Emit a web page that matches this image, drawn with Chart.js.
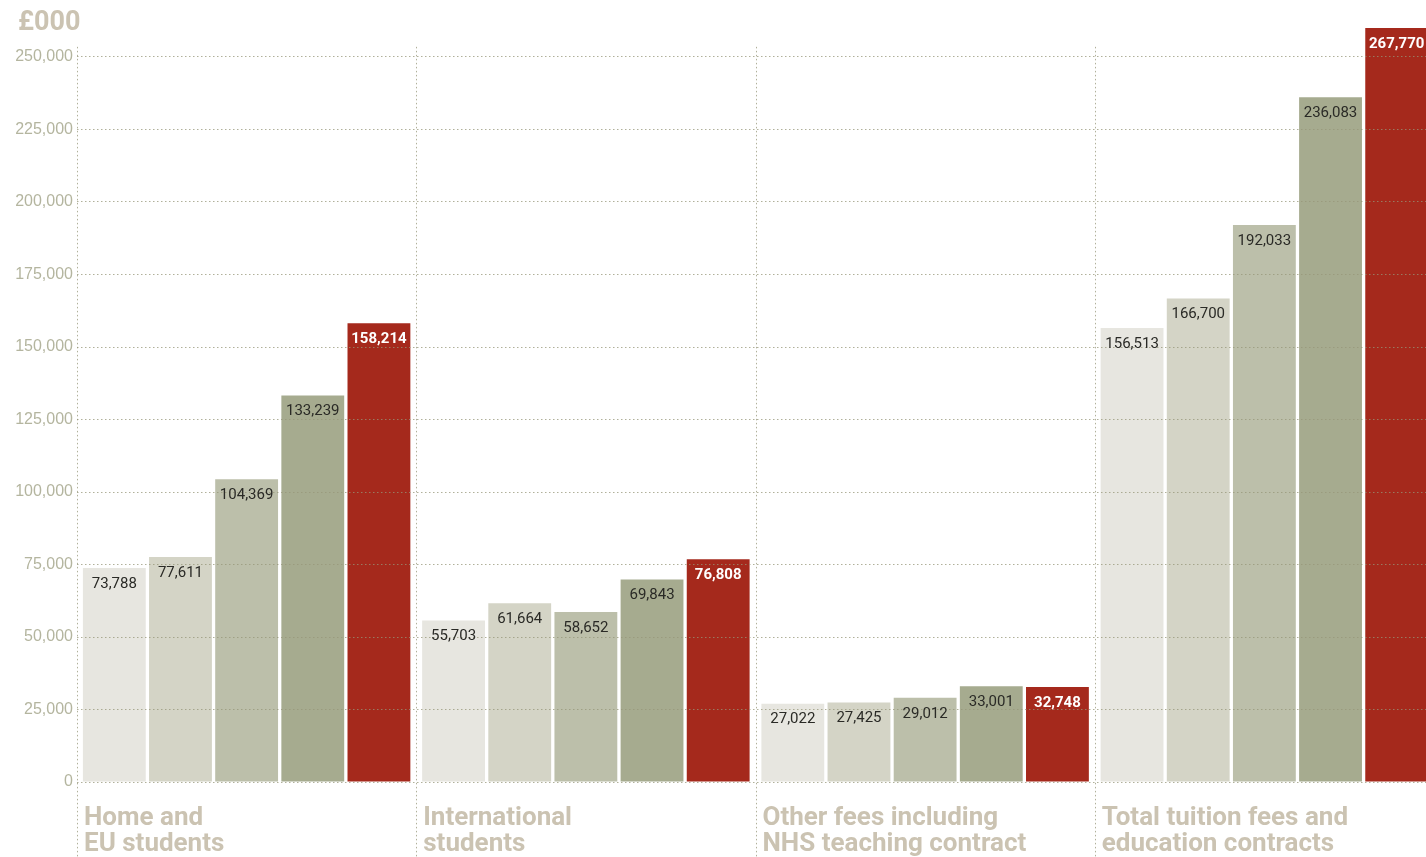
<!DOCTYPE html>
<html>
<head>
<meta charset="utf-8">
<script src="https://cdn.jsdelivr.net/npm/chart.js@4"></script>
<style>
  html, body { margin: 0; padding: 0; background: #fff; overflow: hidden; }
  /* the original graphic runs a few pixels past the right edge of the frame */
  #wrap { width: 1434px; height: 857px; position: relative; }
</style>
</head>
<body>
<div id="wrap"><canvas id="chart"></canvas></div>
<script>
// categories and the five yearly series (£000)
const categories = [
  ['Home and', 'EU students'],
  ['International', 'students'],
  ['Other fees including', 'NHS teaching contract'],
  ['Total tuition fees and', 'education contracts']
];
const series1 = [73788, 55703, 27022, 156513];
const series2 = [77611, 61664, 27425, 166700];
const series3 = [104369, 58652, 29012, 192033];
const series4 = [133239, 69843, 33001, 236083];
const series5 = [158214, 76808, 32748, 267770];
const yTicks = [0, 25000, 50000, 75000, 100000, 125000, 150000, 175000, 200000, 225000, 250000];

const barColors = ['#e7e6e0', '#d4d4c6', '#bcbfaa', '#a6ab8f', '#a5291c'];
const tan = '#cbc3b2';
const dotColor = 'rgba(150,150,120,0.75)';

// value labels inside the top of each bar
const valueLabels = {
  id: 'valueLabels',
  afterDraw(chart) {
    const { ctx, chartArea } = chart;
    ctx.save();
    ctx.textAlign = 'center';
    ctx.textBaseline = 'middle';
    chart.data.datasets.forEach((ds, di) => {
      const red = di === 4;
      ctx.font = red ? "bold 15px Roboto" : "15px Roboto";
      ctx.fillStyle = red ? '#ffffff' : '#2a2a26';
      chart.getDatasetMeta(di).data.forEach((bar, i) => {
        const top = Math.max(bar.y, chartArea.top);
        ctx.fillText(ds.data[i].toLocaleString('en-GB'), bar.x, top + 16);
      });
    });
    ctx.restore();
  }
};

// dotted separators, group names under each group, unit heading
const extras = {
  id: 'extras',
  afterDraw(chart) {
    const { ctx, chartArea } = chart;
    const x = chart.scales.x, y = chart.scales.y;
    ctx.save();
    ctx.strokeStyle = dotColor;
    ctx.lineWidth = 1;
    ctx.setLineDash([1.5, 2.5]);
    const top = y.getPixelForValue(253500);
    for (let i = 0; i < categories.length; i++) {
      const px = Math.round(x.getPixelForValue(i - 0.5)) + 0.5;
      ctx.beginPath();
      ctx.moveTo(px, top);
      ctx.lineTo(px, chart.height);
      ctx.stroke();
    }
    ctx.setLineDash([]);

    ctx.fillStyle = tan;
    ctx.textAlign = 'left';
    ctx.textBaseline = 'middle';
    ctx.font = "bold 26px Roboto";
    categories.forEach((lines, i) => {
      const left = x.getPixelForValue(i - 0.5) + 7;
      lines.forEach((t, li) => {
        ctx.fillText(t, left, chartArea.bottom + 36 + li * 26);
      });
    });

    ctx.font = "bold 27px Roboto";
    ctx.fillText('£000', 18, 23);
    ctx.restore();
  }
};

const datasets = [series1, series2, series3, series4, series5].map((d, i) => ({
  label: 'Series ' + (i + 1),
  data: d,
  backgroundColor: barColors[i],
  borderWidth: 0,
  categoryPercentage: 0.975,
  barPercentage: 0.95
}));

new Chart(document.getElementById('chart'), {
  type: 'bar',
  data: { labels: categories, datasets },
  options: {
    responsive: true,
    maintainAspectRatio: false,
    animation: false,
    layout: { padding: { top: 28, right: 0, left: 0, bottom: 75 } },
    plugins: {
      legend: { display: false },
      tooltip: { enabled: false }
    },
    scales: {
      x: {
        grid: { display: false },
        border: { display: false },
        ticks: { display: false },
        afterFit(axis) { axis.height = 0; axis.paddingLeft = 0; axis.paddingRight = 0; }
      },
      y: {
        min: 0,
        max: 260000,
        afterFit(axis) { axis.width = 77; axis.paddingTop = 0; axis.paddingBottom = 0; },
        afterBuildTicks(axis) {
          axis.ticks = yTicks.map(v => ({ value: v }));
        },
        grid: {
          z: 1,
          drawTicks: false,
          color: dotColor,
          lineWidth: 1
        },
        border: { display: false, dash: [1.5, 2.5] },
        ticks: {
          padding: 4,
          color: '#b4b59f',
          font: { family: 'Liberation Sans', size: 16 },
          callback: v => v.toLocaleString('en-GB')
        }
      }
    }
  },
  plugins: [valueLabels, extras]
});
</script>
</body>
</html>
